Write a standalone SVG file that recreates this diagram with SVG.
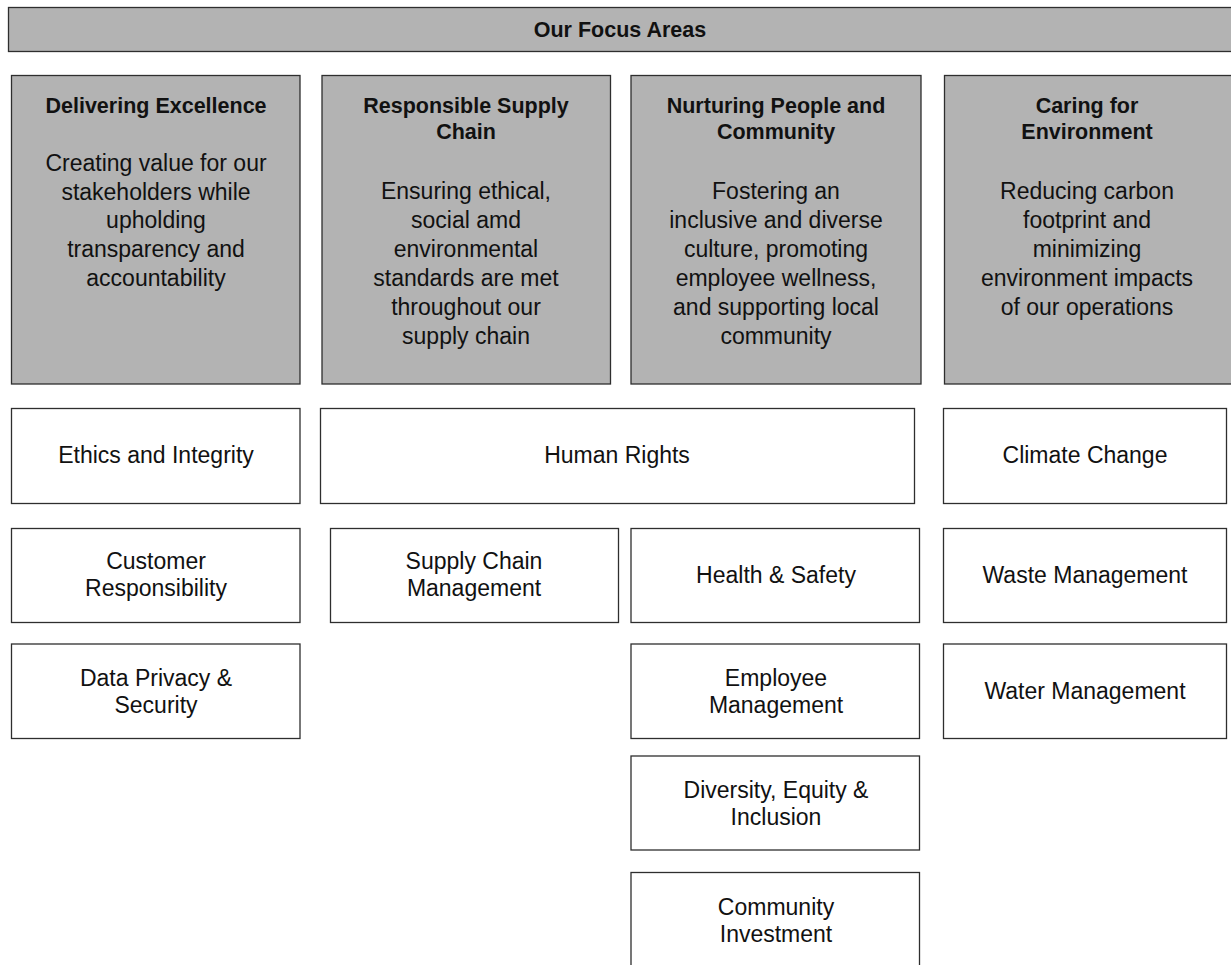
<svg xmlns="http://www.w3.org/2000/svg" width="1231" height="965" viewBox="0 0 1231 965">
  <style>
    .bg { fill: #ffffff; }
    .hdr { fill: #b3b3b3; stroke: #2e2e2e; stroke-width: 1.3; }
    .box { fill: #ffffff; stroke: #2e2e2e; stroke-width: 1.3; }
    text { font-family: "Liberation Sans", Arial, sans-serif; fill: #111111; text-anchor: middle; }
    .title { font-size: 21.5px; font-weight: bold; }
    .desc { font-size: 23px; }
    .lbl { font-size: 23px; }
  </style>
  <rect class="bg" x="0" y="0" width="1231" height="965"/>

  <!-- banner -->
  <g id="focus-areas">
    <rect class="hdr" x="8.5" y="7.5" width="1232" height="44"/>
    <text class="title" x="620" y="37">Our Focus Areas</text>
  </g>

  <!-- pillar headers -->
  <g id="delivering-excellence">
    <rect class="hdr" x="11.5" y="75.5" width="288.5" height="308.5"/>
    <text class="title" x="156" y="113">Delivering Excellence</text>
    <text class="desc" x="156" y="171">Creating value for our</text>
    <text class="desc" x="156" y="200">stakeholders while</text>
    <text class="desc" x="156" y="228">upholding</text>
    <text class="desc" x="156" y="257">transparency and</text>
    <text class="desc" x="156" y="286">accountability</text>
  </g>
  <g id="responsible-supply-chain">
    <rect class="hdr" x="322" y="75.5" width="288.5" height="308.5"/>
    <text class="title" x="466" y="113">Responsible Supply</text>
    <text class="title" x="466" y="139">Chain</text>
    <text class="desc" x="466" y="199">Ensuring ethical,</text>
    <text class="desc" x="466" y="228">social amd</text>
    <text class="desc" x="466" y="257">environmental</text>
    <text class="desc" x="466" y="286">standards are met</text>
    <text class="desc" x="466" y="315">throughout our</text>
    <text class="desc" x="466" y="344">supply chain</text>
  </g>
  <g id="nurturing-people">
    <rect class="hdr" x="631" y="75.5" width="290" height="308.5"/>
    <text class="title" x="776" y="113">Nurturing People and</text>
    <text class="title" x="776" y="139">Community</text>
    <text class="desc" x="776" y="199">Fostering an</text>
    <text class="desc" x="776" y="228">inclusive and diverse</text>
    <text class="desc" x="776" y="257">culture, promoting</text>
    <text class="desc" x="776" y="286">employee wellness,</text>
    <text class="desc" x="776" y="315">and supporting local</text>
    <text class="desc" x="776" y="344">community</text>
  </g>
  <g id="caring-for-environment">
    <rect class="hdr" x="944.5" y="75.5" width="292" height="308.5"/>
    <text class="title" x="1087" y="113">Caring for</text>
    <text class="title" x="1087" y="139">Environment</text>
    <text class="desc" x="1087" y="199">Reducing carbon</text>
    <text class="desc" x="1087" y="228">footprint and</text>
    <text class="desc" x="1087" y="257">minimizing</text>
    <text class="desc" x="1087" y="286">environment impacts</text>
    <text class="desc" x="1087" y="315">of our operations</text>
  </g>

  <!-- topics, row 1 -->
  <g id="ethics-integrity">
    <rect class="box" x="11.5" y="408.5" width="288.5" height="95"/>
    <text class="lbl" x="156" y="463">Ethics and Integrity</text>
  </g>
  <g id="human-rights">
    <rect class="box" x="320.5" y="408.5" width="594" height="95"/>
    <text class="lbl" x="617" y="463">Human Rights</text>
  </g>
  <g id="climate-change">
    <rect class="box" x="943.5" y="408.5" width="283" height="95"/>
    <text class="lbl" x="1085" y="463">Climate Change</text>
  </g>

  <!-- topics, row 2 -->
  <g id="customer-responsibility">
    <rect class="box" x="11.5" y="528.5" width="288.5" height="94"/>
    <text class="lbl" x="156" y="569">Customer</text>
    <text class="lbl" x="156" y="596">Responsibility</text>
  </g>
  <g id="supply-chain-management">
    <rect class="box" x="330.5" y="528.5" width="288" height="94"/>
    <text class="lbl" x="474" y="569">Supply Chain</text>
    <text class="lbl" x="474" y="596">Management</text>
  </g>
  <g id="health-safety">
    <rect class="box" x="631" y="528.5" width="288.5" height="94"/>
    <text class="lbl" x="776" y="583">Health &amp; Safety</text>
  </g>
  <g id="waste-management">
    <rect class="box" x="943.5" y="528.5" width="283" height="94"/>
    <text class="lbl" x="1085" y="583">Waste Management</text>
  </g>

  <!-- topics, row 3 -->
  <g id="data-privacy-security">
    <rect class="box" x="11.5" y="644" width="288.5" height="94.5"/>
    <text class="lbl" x="156" y="686">Data Privacy &amp;</text>
    <text class="lbl" x="156" y="713">Security</text>
  </g>
  <g id="employee-management">
    <rect class="box" x="631" y="644" width="288.5" height="94.5"/>
    <text class="lbl" x="776" y="686">Employee</text>
    <text class="lbl" x="776" y="713">Management</text>
  </g>
  <g id="water-management">
    <rect class="box" x="943.5" y="644" width="283" height="94.5"/>
    <text class="lbl" x="1085" y="699">Water Management</text>
  </g>

  <!-- topics, rows 4-5 -->
  <g id="diversity-equity-inclusion">
    <rect class="box" x="631" y="756" width="288.5" height="94"/>
    <text class="lbl" x="776" y="798">Diversity, Equity &amp;</text>
    <text class="lbl" x="776" y="825">Inclusion</text>
  </g>
  <g id="community-investment">
    <rect class="box" x="631" y="872.5" width="288.5" height="100"/>
    <text class="lbl" x="776" y="915">Community</text>
    <text class="lbl" x="776" y="942">Investment</text>
  </g>

  <!-- no connectors in this layout -->
  <g id="connectors"/>
</svg>
